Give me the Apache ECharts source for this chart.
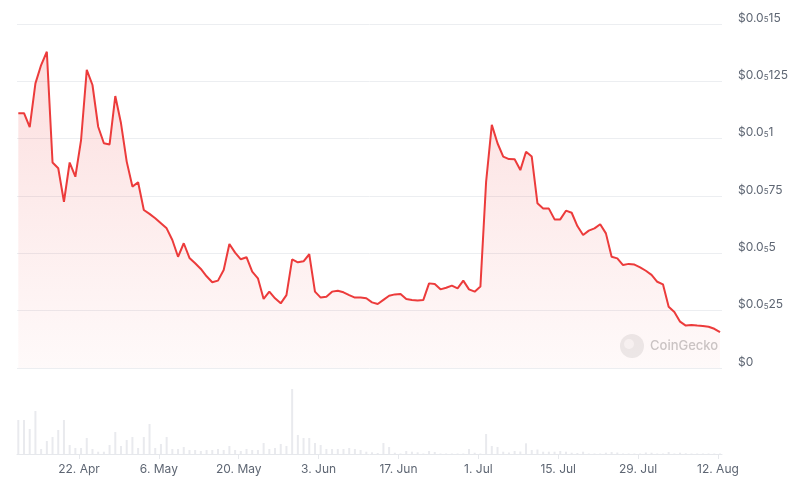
<!DOCTYPE html>
<html>
<head>
<meta charset="utf-8">
<script src="https://cdn.jsdelivr.net/npm/echarts@6/dist/echarts.min.js"></script>
<style>
  html, body { margin: 0; padding: 0; background: #fff; }
  #chart { width: 800px; height: 485px; }
</style>
</head>
<body>
<div id="chart"></div>
<script>
// Daily price (in units of $0.0₅1 / 10, i.e. 10 = $0.0₅1)
const firstPointTime = '2024-04-11T08:38:00Z';
const prices = [
  11.11, 11.11, 10.50, 12.41, 13.21, 13.79, 8.96, 8.71, 7.25, 8.96,
  8.34, 9.94, 13.00, 12.34, 10.52, 9.80, 9.75, 11.86, 10.67, 9.00,
  7.91, 8.10, 6.89, 6.72, 6.53, 6.31, 6.09, 5.58, 4.85, 5.44,
  4.80, 4.57, 4.32, 4.00, 3.74, 3.81, 4.27, 5.41, 5.03, 4.74,
  4.83, 4.20, 3.91, 3.01, 3.33, 3.04, 2.82, 3.18, 4.74, 4.61,
  4.65, 4.96, 3.33, 3.07, 3.11, 3.33, 3.37, 3.30, 3.18, 3.07,
  3.07, 3.04, 2.86, 2.79, 2.97, 3.15, 3.21, 3.23, 3.01, 2.97,
  2.94, 2.97, 3.69, 3.66, 3.43, 3.50, 3.59, 3.47, 3.81, 3.43,
  3.33, 3.55, 8.12, 10.60, 9.80, 9.22, 9.11, 9.10, 8.63, 9.43,
  9.22, 7.18, 6.96, 6.95, 6.48, 6.48, 6.86, 6.77, 6.19, 5.80,
  5.99, 6.09, 6.27, 5.87, 4.85, 4.78, 4.49, 4.54, 4.51, 4.39,
  4.24, 4.06, 3.76, 3.65, 2.67, 2.44, 2.02, 1.85, 1.88, 1.85,
  1.83, 1.80, 1.71, 1.56
];
// Daily volume (relative units)
const volumes = [
  34, 34, 25, 43, 5, 13, 17, 24, 34, 9,
  6, 6, 16, 5, 2.3, 2.3, 9, 22, 8, 14,
  17, 6, 17, 30, 6, 10, 17, 5, 5, 7,
  4, 4, 3, 4, 4, 5, 4, 8, 4, 3,
  5, 4, 4, 11, 5, 6, 10, 8, 65, 19,
  16, 16, 11, 9, 5, 5, 5, 5, 6, 5,
  4, 2.3, 1.7, 1, 11, 7, 1.3, 0.5, 3, 2.3,
  1.7, 0.5, 3, 2, 0.5, 0.5, 0.5, 0.5, 0.5, 5,
  1.3, 0.5, 20, 8, 7, 2.3, 1.5, 3, 2.5, 10.7,
  4, 4.5, 2.3, 2.3, 2.3, 3, 2.3, 1.3, 1, 2.3,
  0.5, 0.5, 0.5, 1.3, 2, 1.5, 0.5, 0.5, 0.5, 0.5,
  1.5, 1.3, 0.5, 0.5, 2, 0.5, 1.3, 0.7, 0.5, 0.5,
  0.5, 0.5, 0.5, 0.5
];
const xTickDates = ['2024-04-22', '2024-05-06', '2024-05-20', '2024-06-03', '2024-06-17', '2024-07-01', '2024-07-15', '2024-07-29', '2024-08-12'];
const xTickLabels = ['22. Apr', '6. May', '20. May', '3. Jun', '17. Jun', '1. Jul', '15. Jul', '29. Jul', '12. Aug'];
const yTickValues = [0, 2.5, 5, 7.5, 10, 12.5, 15];
const yTickLabels = ['$0', '$0.0₅25', '$0.0₅5', '$0.0₅75', '$0.0₅1', '$0.0₅125', '$0.0₅15'];
const axisStart = '2024-04-11T03:07:00Z';
const axisEnd = '2024-08-12T17:02:00Z';

const DAY = 86400000;
const t0 = new Date(firstPointTime).getTime();
const priceData = prices.map((v, i) => [t0 + i * DAY, v]);
const volData = volumes.map((v, i) => [t0 + i * DAY, v]);
const tickTimes = xTickDates.map(d => new Date(d + 'T00:00:00Z').getTime());
const xMin = new Date(axisStart).getTime();
const xMax = new Date(axisEnd).getTime();

function xLabel(val) {
  let best = 0, bd = Infinity;
  tickTimes.forEach((t, i) => { const d = Math.abs(t - val); if (d < bd) { bd = d; best = i; } });
  return xTickLabels[best];
}
function yLabel(val) {
  const idx = yTickValues.findIndex(v => Math.abs(v - val) < 1e-6);
  if (idx < 0) return '';
  const s = yTickLabels[idx];
  const parts = s.split('₅');
  if (parts.length === 1) return '{a|' + s + '}';
  return '{a|' + parts[0] + '}{s|5}{a|' + parts[1] + '}';
}

const labelColor = '#5e6673';
const fontFamily = 'Inter, "Noto Sans", sans-serif';

const chart = echarts.init(document.getElementById('chart'), null, { renderer: 'canvas' });
chart.setOption({
  animation: false,
  backgroundColor: '#ffffff',
  grid: [
    { left: 17, right: 78, top: 24, bottom: 117 },
    { left: 17, right: 78, top: 389, bottom: 31 }
  ],
  xAxis: [
    {
      gridIndex: 0, type: 'value', min: xMin, max: xMax,
      axisLine: { show: false }, axisTick: { show: false },
      axisLabel: { show: false }, splitLine: { show: false }
    },
    {
      gridIndex: 1, type: 'value', min: xMin, max: xMax,
      axisLine: { show: true, lineStyle: { color: '#e6e8ec', width: 1 } },
      axisTick: { show: true, length: 5, lineStyle: { color: '#e6e8ec' }, customValues: tickTimes },
      axisLabel: {
        show: true, customValues: tickTimes, formatter: xLabel,
        color: labelColor, fontSize: 12, fontFamily: fontFamily, margin: 9
      },
      splitLine: { show: false }
    }
  ],
  yAxis: [
    {
      gridIndex: 0, type: 'value', position: 'right', min: 0, max: 15, interval: 2.5,
      axisLine: { show: false }, axisTick: { show: false },
      splitLine: { show: true, lineStyle: { color: '#eceef1', width: 1 } },
      axisLabel: {
        show: true, margin: 16, formatter: yLabel, verticalAlign: 'bottom',
        rich: {
          a: { fontSize: 12, color: labelColor, fontFamily: fontFamily, lineHeight: 15, verticalAlign: 'bottom' },
          s: { fontSize: 8, color: labelColor, fontFamily: fontFamily, lineHeight: 8, verticalAlign: 'bottom' }
        }
      }
    },
    {
      gridIndex: 1, type: 'value', min: 0, max: 65, show: false,
      splitLine: { show: false }
    }
  ],
  graphic: [
    {
      type: 'group', left: 620, top: 334, z: 0,
      children: [
        { type: 'circle', shape: { cx: 12, cy: 12, r: 12 }, style: { fill: '#ececec' } },
        { type: 'circle', shape: { cx: 9, cy: 10, r: 5 }, style: { fill: '#f7f7f7' } },
        { type: 'text', x: 30, y: 12, style: { text: 'CoinGecko', fill: '#c9c9c9', fontSize: 13, fontWeight: 500, fontFamily: fontFamily, verticalAlign: 'middle' } }
      ]
    }
  ],
  series: [
    {
      type: 'bar', xAxisIndex: 1, yAxisIndex: 1, data: volData,
      barWidth: 2, itemStyle: { color: '#e9eaee' }, silent: true
    },
    {
      type: 'line', xAxisIndex: 0, yAxisIndex: 0, data: priceData,
      showSymbol: false, symbol: 'none',
      lineStyle: { color: '#ec3b3b', width: 2 },
      areaStyle: {
        color: new echarts.graphic.LinearGradient(0, 0, 0, 1, [
          { offset: 0, color: 'rgba(236,59,59,0.24)' },
          { offset: 1, color: 'rgba(236,59,59,0.04)' }
        ])
      },
      z: 3
    }
  ]
});
</script>
</body>
</html>
